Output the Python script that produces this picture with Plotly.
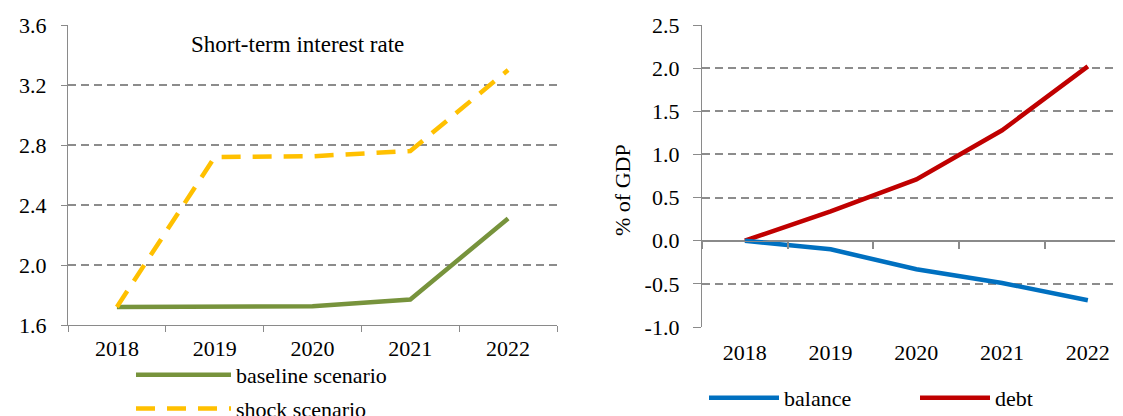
import plotly.graph_objects as go

# ---- data ----
years = ['2018', '2019', '2020', '2021', '2022']
baseline = [1.72, 1.725, 1.725, 1.77, 2.31]
shock = [1.72, 2.72, 2.725, 2.76, 3.30]
balance = [0.0, -0.10, -0.33, -0.49, -0.69]
debt = [0.0, 0.34, 0.71, 1.28, 2.02]
left_ytick_vals = [1.6, 2.0, 2.4, 2.8, 3.2, 3.6]
left_ytick_text = ['1.6', '2.0', '2.4', '2.8', '3.2', '3.6']
right_ytick_vals = [-1.0, -0.5, 0.0, 0.5, 1.0, 1.5, 2.0, 2.5]
right_ytick_text = ['-1.0', '-0.5', '0.0', '0.5', '1.0', '1.5', '2.0', '2.5']

# the page body has an 8px margin, so the figure is sized to fill the rest
OFF = 8
VW, VH = 1123, 416
W, H = VW - OFF, VH - OFF
FONT = 'Liberation Serif'
FS = 22
AXC = '#8a8a8a'
GRIDC = '#8c8c8c'


def px_x(p):
    return (p - OFF) / W


def px_y(p):
    return 1 - (p - OFF) / H


fig = go.Figure()
fig.add_trace(go.Scatter(x=years, y=baseline, mode='lines', name='baseline scenario',
                         line=dict(color='#77933C', width=4.5), xaxis='x', yaxis='y',
                         legend='legend', legendgroup='a'))
fig.add_trace(go.Scatter(x=years, y=shock, mode='lines', name='shock scenario',
                         line=dict(color='#FFC000', width=4.5, dash='19px,12px'),
                         xaxis='x', yaxis='y', legend='legend', legendgroup='b'))
fig.add_trace(go.Scatter(x=years, y=balance, mode='lines', name='balance',
                         line=dict(color='#0070C0', width=4.5), xaxis='x3', yaxis='y2',
                         legend='legend2'))
fig.add_trace(go.Scatter(x=years, y=debt, mode='lines', name='debt',
                         line=dict(color='#C00000', width=4.5), xaxis='x2', yaxis='y2',
                         legend='legend2'))

ly0, ly1 = px_y(325), px_y(25)
ry0, ry1 = px_y(327), px_y(25)
rmin, rmax = -1.0, 2.5
zero_pos = ry0 + (0 - rmin) / (rmax - rmin) * (ry1 - ry0)

tickfont = dict(family=FONT, size=FS, color='black')
legfont = dict(family=FONT, size=FS, color='black')

fig.update_layout(
    width=W, height=H,
    margin=dict(l=0, r=0, t=0, b=0, autoexpand=False),
    paper_bgcolor='white', plot_bgcolor='white',
    font=dict(family=FONT, size=FS, color='black'),
    xaxis=dict(type='category', domain=[px_x(68), px_x(557)], range=[-0.5, 4.5],
               anchor='y', showline=True, linecolor=AXC, linewidth=1.3,
               ticks='outside', tickson='boundaries', ticklen=6, tickcolor=AXC,
               tickwidth=1.3, showgrid=False, tickfont=tickfont, ticklabelstandoff=3),
    yaxis=dict(domain=[ly0, ly1], range=[1.6, 3.6], anchor='x',
               tickvals=left_ytick_vals, ticktext=left_ytick_text,
               showline=True, linecolor=AXC, linewidth=1.3,
               ticks='outside', ticklen=6, tickcolor=AXC, tickwidth=1.3,
               showgrid=True, gridcolor=GRIDC, gridwidth=1.5, griddash='8px,5px',
               zeroline=False, tickfont=tickfont, ticklabelstandoff=10),
    xaxis2=dict(type='category', domain=[px_x(702), 1.0], range=[-0.5, 4.41],
                anchor='y2', showline=False, ticks='', showgrid=False,
                tickfont=tickfont, ticklabelstandoff=10),
    xaxis3=dict(type='category', overlaying='x2', anchor='free', position=zero_pos,
                range=[-0.5, 4.41], showline=True, linecolor=AXC, linewidth=1.3,
                ticks='outside', tickson='boundaries', ticklen=7, tickcolor=AXC,
                tickwidth=1.5, showticklabels=False, showgrid=False),
    yaxis2=dict(domain=[ry0, ry1], range=[rmin, rmax], anchor='x2',
                tickvals=right_ytick_vals, ticktext=right_ytick_text,
                showline=True, linecolor=AXC, linewidth=1.3,
                ticks='outside', ticklen=8, tickcolor=AXC, tickwidth=1.3,
                showgrid=True, gridcolor=GRIDC, gridwidth=1.5, griddash='8px,5px',
                zeroline=True, zerolinecolor=AXC, zerolinewidth=1.3, tickfont=tickfont,
                ticklabelstandoff=9),
    legend=dict(x=px_x(131), y=px_y(354), xanchor='left', yanchor='top',
                orientation='v', tracegroupgap=2, itemwidth=95, font=legfont,
                bgcolor='rgba(0,0,0,0)', borderwidth=0),
    legend2=dict(x=px_x(704), y=px_y(377), xanchor='left', yanchor='top',
                 orientation='h', itemwidth=70, entrywidth=126, entrywidthmode='pixels',
                 font=legfont, bgcolor='rgba(0,0,0,0)', borderwidth=0),
    annotations=[
        dict(text='Short-term interest rate', x=px_x(298), y=px_y(44), xref='paper',
             yref='paper', showarrow=False, xanchor='center', yanchor='middle',
             font=dict(family=FONT, size=23, color='black')),
        dict(text='% of GDP', x=px_x(622), y=px_y(190), xref='paper', yref='paper',
             showarrow=False, textangle=-90, xanchor='center', yanchor='middle',
             font=dict(family=FONT, size=FS, color='black')),
    ],
)

fig.write_html('out.html')
